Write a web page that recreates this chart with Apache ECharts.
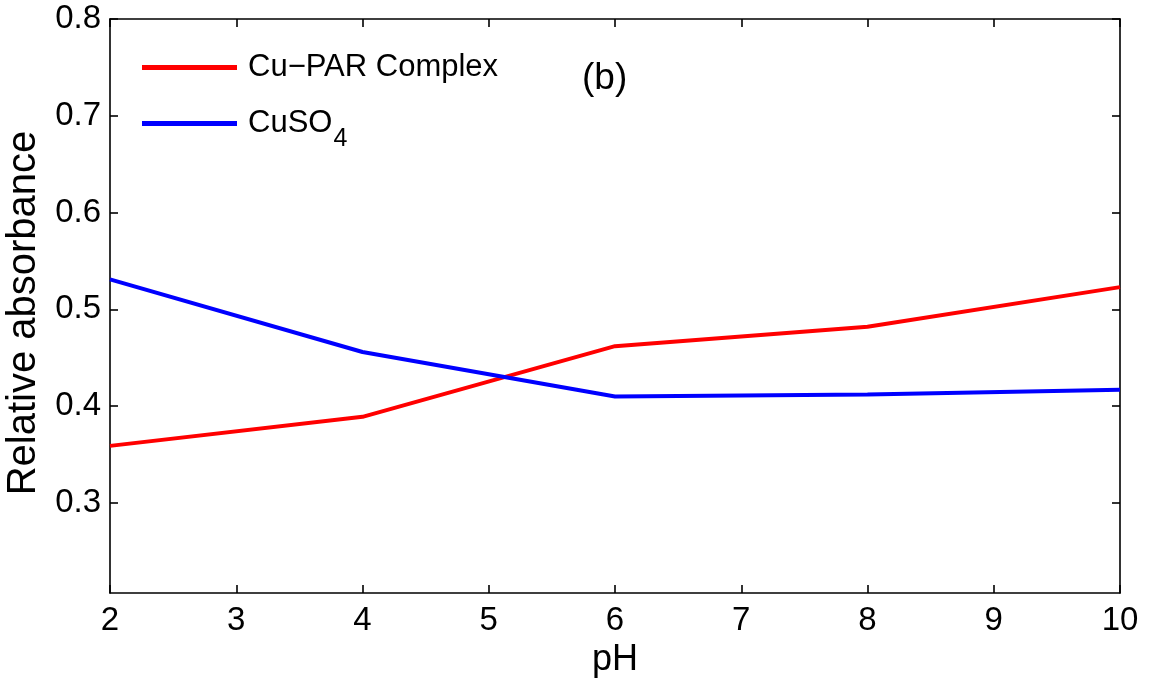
<!DOCTYPE html>
<html>
<head>
<meta charset="utf-8">
<script src="https://cdn.jsdelivr.net/npm/echarts@6/dist/echarts.min.js"></script>
<style>html,body{margin:0;padding:0;background:#fff;}#c{width:1150px;height:693px;}</style>
</head>
<body>
<div id="c"></div>
<script>
// Data
const pH = [2, 4, 6, 8, 10];
const cuParComplex = [0.359, 0.389, 0.462, 0.482, 0.523];
const cuSO4 = [0.531, 0.456, 0.410, 0.412, 0.417];
const yTickValues = [0.3, 0.4, 0.5, 0.6, 0.7, 0.8];
const seriesNames = ['Cu\u2212PAR Complex', 'CuSO4'];
const panelLabel = '(b)';

const FONT = '"Liberation Sans", Arial, sans-serif';
const chart = echarts.init(document.getElementById('c'), null, {renderer: 'canvas'});

const axisLineStyle = {color: '#000', width: 1.6};
const tickStyle = {show: true, inside: true, length: 8, lineStyle: {color: '#000', width: 1.6}};

const option = {
  backgroundColor: '#fff',
  animation: false,
  grid: {left: 110, right: 30, top: 19, bottom: 100, containLabel: false, outerBoundsMode: 'none'},
  legend: {
    orient: 'vertical',
    left: 142,
    top: 52,
    padding: 0,
    itemWidth: 95,
    itemHeight: 5,
    itemGap: 12,
    icon: 'rect',
    data: seriesNames,
    formatter: function (name) {
      if (name === 'CuSO4') return '{m|CuSO}{s|4}';
      return '{m|' + name + '}';
    },
    textStyle: {
      fontFamily: FONT,
      color: '#000',
      padding: [0, 0, 0, 6],
      rich: {
        m: {fontFamily: FONT, fontSize: 31, color: '#000', lineHeight: 36},
        s: {fontFamily: FONT, fontSize: 25, color: '#000', lineHeight: 36, padding: [32, 0, 0, 1]}
      }
    }
  },
  graphic: [{
    type: 'text',
    left: 582,
    top: 60,
    style: {text: panelLabel, font: '37px "Liberation Sans", Arial, sans-serif', fill: '#000'}
  }],
  xAxis: [{
    type: 'value',
    min: 2, max: 10, interval: 1,
    position: 'bottom',
    name: 'pH',
    nameLocation: 'middle',
    nameGap: 49,
    nameTextStyle: {fontFamily: FONT, fontSize: 36, color: '#000'},
    axisLine: {show: true, onZero: false, lineStyle: axisLineStyle},
    axisTick: tickStyle,
    axisLabel: {fontFamily: FONT, fontSize: 33, color: '#000', margin: 11},
    splitLine: {show: false}
  }, {
    type: 'value',
    min: 2, max: 10, interval: 1,
    position: 'top',
    axisLine: {show: true, onZero: false, lineStyle: axisLineStyle},
    axisTick: tickStyle,
    axisLabel: {show: false},
    splitLine: {show: false}
  }],
  yAxis: [{
    type: 'value',
    min: 0.207, max: 0.8,
    position: 'left',
    name: 'Relative absorbance',
    nameLocation: 'middle',
    nameGap: 66,
    nameTextStyle: {fontFamily: FONT, fontSize: 40, color: '#000', padding: [0, 14, 0, 0]},
    axisLine: {show: true, onZero: false, lineStyle: axisLineStyle},
    axisTick: Object.assign({}, tickStyle, {customValues: yTickValues}),
    axisLabel: {fontFamily: FONT, fontSize: 33, color: '#000', margin: 9,
      customValues: yTickValues, formatter: v => v.toFixed(1)},
    splitLine: {show: false}
  }, {
    type: 'value',
    min: 0.207, max: 0.8,
    position: 'right',
    axisLine: {show: true, onZero: false, lineStyle: axisLineStyle},
    axisTick: Object.assign({}, tickStyle, {customValues: yTickValues}),
    axisLabel: {show: false},
    splitLine: {show: false}
  }],
  series: [{
    name: seriesNames[0],
    type: 'line',
    data: pH.map((x, i) => [x, cuParComplex[i]]),
    showSymbol: false,
    smooth: false,
    lineStyle: {color: '#ff0000', width: 4},
    itemStyle: {color: '#ff0000'}
  }, {
    name: seriesNames[1],
    type: 'line',
    data: pH.map((x, i) => [x, cuSO4[i]]),
    showSymbol: false,
    smooth: false,
    lineStyle: {color: '#0000ff', width: 4},
    itemStyle: {color: '#0000ff'}
  }]
};
chart.setOption(option);
</script>
</body>
</html>
